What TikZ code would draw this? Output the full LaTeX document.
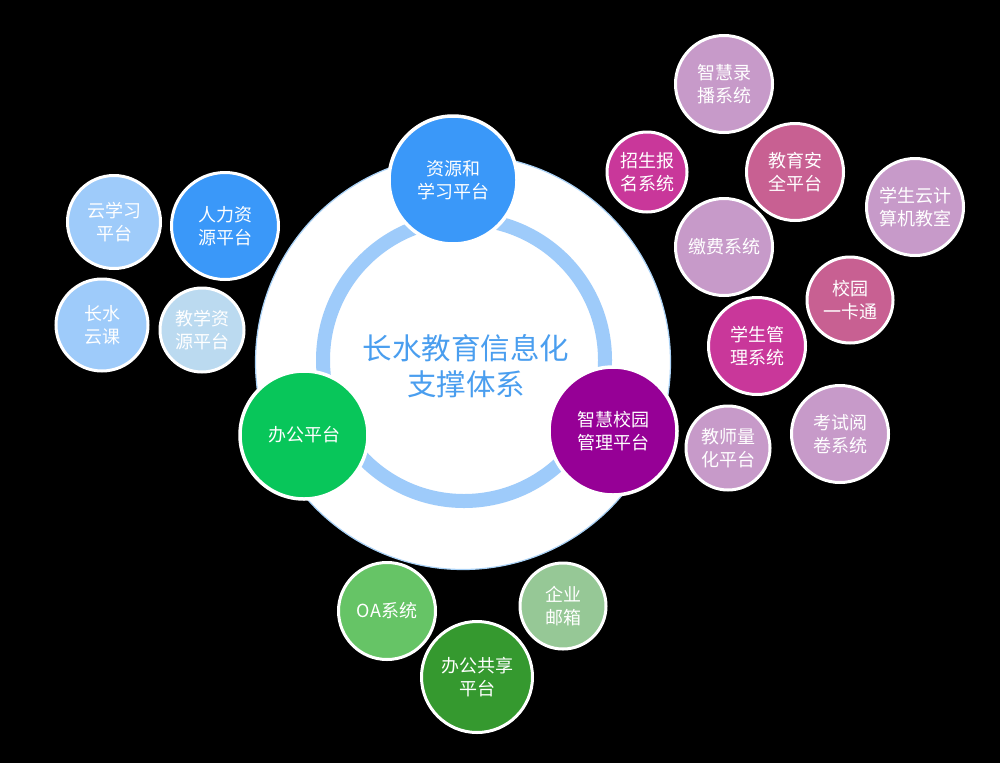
\documentclass[tikz,border=0pt]{standalone}
\usepackage{fontspec}
\setmainfont{Noto Sans CJK SC}
\definecolor{mainblue}{HTML}{3A98F9}
\definecolor{ringblue}{HTML}{9ECBFA}
\definecolor{paleblue}{HTML}{BBDAF0}
\definecolor{titleblue}{HTML}{4A9EEF}
\definecolor{maingreen}{HTML}{08C65A}
\definecolor{mainpurple}{HTML}{960096}
\definecolor{mauve}{HTML}{C79AC9}
\definecolor{magentax}{HTML}{C9379A}
\definecolor{rosex}{HTML}{C86092}
\definecolor{oagreen}{HTML}{66C466}
\definecolor{mailgreen}{HTML}{96C896}
\definecolor{sharegreen}{HTML}{35992F}
\definecolor{haloblue}{HTML}{A8D0F5}
\tikzset{
  bub/.style={circle, draw=white, line width=3pt, inner sep=0pt, text=white,
    align=center, font=\fontsize{18}{23}\selectfont, minimum size=#1},
  bub/.default=97pt,
  title/.style={text=titleblue, align=center, font=\fontsize{29.5}{36}\selectfont}
}
\begin{document}
\begin{tikzpicture}[x=1pt,y=-1pt]
\fill[black] (0,0) rectangle (1000,763);
\useasboundingbox (0,0) rectangle (1000,763);
% central disc and ring
\node[circle, fill=white, draw=haloblue, line width=1.2pt, minimum size=415pt, inner sep=0pt] (disc) at (463,362) {};
\draw[ringblue, line width=14pt] (464,360) circle[radius=141pt];
\node[title] (ttl) at (466,366) {长水教育信息化\\支撑体系};
% main platforms
\node[bub=128pt, line width=3.5pt, fill=mainblue] (res) at (453,180) {资源和\\学习平台};
\node[bub=128pt, line width=3.5pt, fill=maingreen] (off) at (304,435) {办公平台};
\node[bub=128pt, line width=3.5pt, fill=mainpurple] (smart) at (613,431) {智慧校园\\管理平台};
% left group
\node[bub=93pt, fill=ringblue] (cloud) at (114,222) {云学习\\平台};
\node[bub=107pt, fill=mainblue] (hr) at (225,226) {人力资\\源平台};
\node[bub=92pt, fill=ringblue] (csy) at (102,325) {长水\\云课};
\node[bub=84pt, fill=paleblue] (teach) at (202,330) {教学资\\源平台};
% right group
\node[bub, fill=mauve] (rec) at (724,84) {智慧录\\播系统};
\node[bub=80pt, fill=magentax] (enrol) at (647,172) {招生报\\名系统};
\node[bub, fill=rosex] (safe) at (795,172) {教育安\\全平台};
\node[bub, fill=mauve] (cloudpc) at (915,207) {学生云计\\算机教室};
\node[bub, fill=mauve] (fee) at (724,247) {缴费系统};
\node[bub=86pt, fill=rosex] (card) at (850,300) {校园\\一卡通};
\node[bub, fill=magentax] (stu) at (757,346) {学生管\\理系统};
\node[bub=84pt, fill=mauve] (tq) at (728,448) {教师量\\化平台};
\node[bub, fill=mauve] (exam) at (840,434) {考试阅\\卷系统};
% bottom group
\node[bub, fill=oagreen] (oa) at (387,611) {OA系统};
\node[bub=86pt, fill=mailgreen] (mail) at (563,606) {企业\\邮箱};
\node[bub=111pt, fill=sharegreen] (share) at (477,677) {办公共享\\平台};
\end{tikzpicture}
\end{document}
